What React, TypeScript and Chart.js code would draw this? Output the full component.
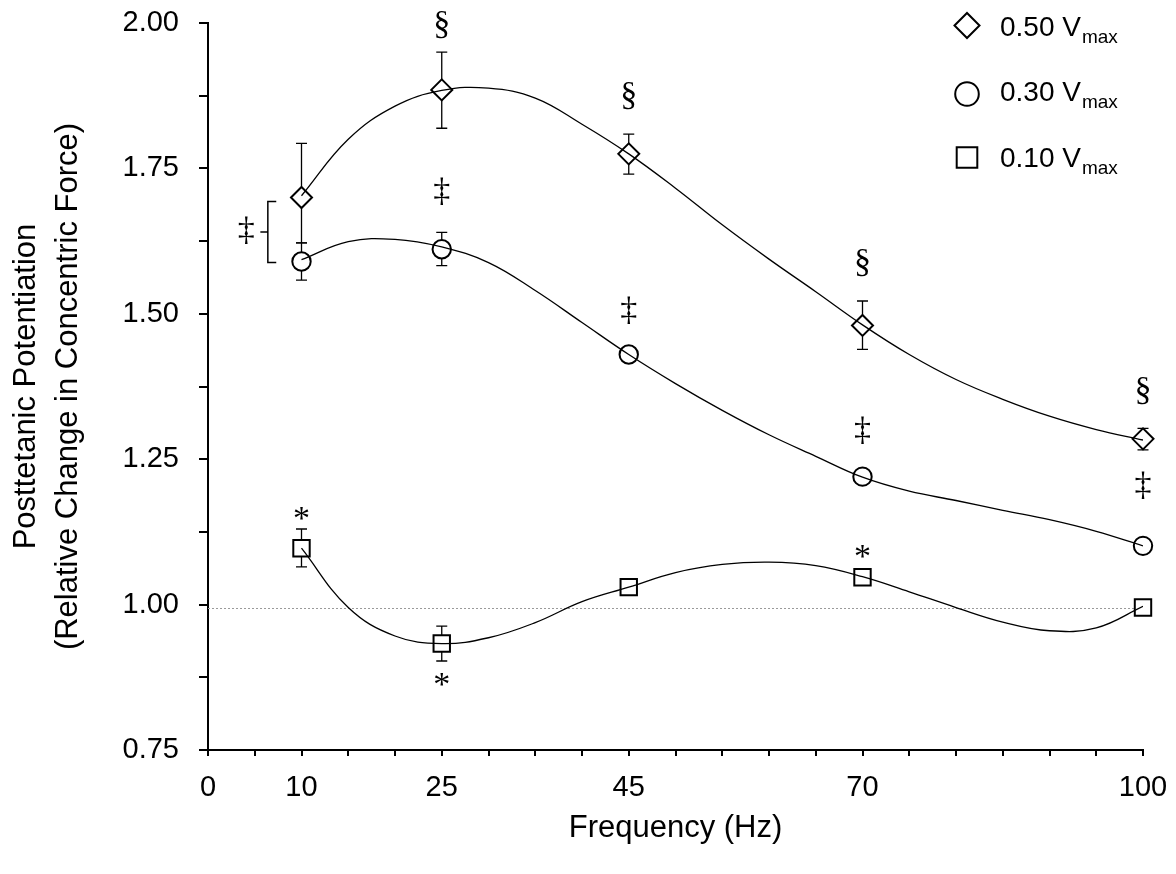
import React, { useEffect, useRef } from 'react';
import { Chart, registerables } from 'chart.js';

Chart.register(...registerables);

// ---- data ----
const frequencies = [10, 25, 45, 70, 100];
const xLabelled = [0, 10, 25, 45, 70, 100];

const mean50 = [1.700, 1.885, 1.775, 1.480, 1.285];
const upper50 = [1.793, 1.950, 1.809, 1.522, 1.303];
const lower50 = [1.622, 1.819, 1.740, 1.439, 1.266];

const mean30 = [1.590, 1.611, 1.430, 1.220, 1.101];
const upper30 = [1.622, 1.640, 1.438, 1.228, 1.108];
const lower30 = [1.558, 1.583, 1.422, 1.212, 1.094];

const mean10 = [1.097, 0.933, 1.030, 1.047, 0.995];
const upper10 = [1.130, 0.963, 1.038, 1.057, 1.003];
const lower10 = [1.065, 0.903, 1.022, 1.037, 0.987];

// fitted curves
const fitX = [10, 15, 20, 25, 30, 35, 40, 45, 50, 55, 60, 65, 70, 75, 80, 85, 90, 95, 100];
const fit50 = [1.703, 1.800, 1.857, 1.884, 1.888, 1.871, 1.826, 1.775, 1.716, 1.653, 1.594, 1.538, 1.481, 1.430, 1.387, 1.353, 1.324, 1.301, 1.283];
const fit30 = [1.593, 1.624, 1.628, 1.615, 1.588, 1.540, 1.485, 1.430, 1.380, 1.334, 1.292, 1.255, 1.219, 1.195, 1.179, 1.162, 1.146, 1.126, 1.101];
const fit10 = [1.097, 0.995, 0.946, 0.933, 0.943, 0.969, 1.005, 1.030, 1.055, 1.069, 1.073, 1.067, 1.048, 1.022, 0.995, 0.970, 0.955, 0.960, 0.997];

const referenceLevel = 0.995;

// significance symbols
const sectionX = [25, 45, 70, 100];
const sectionY = [1.997, 1.874, 1.587, 1.368];
const ddaggerX = [25, 45, 70, 100, 4.1];
const ddaggerY = [1.711, 1.507, 1.300, 1.206, 1.644];
const asteriskX = [10, 25, 70];
const asteriskY = [1.157, 0.871, 1.092];

// bracket joining 0.50 and 0.30 at 10 Hz
const bracketX = [5.6, 6.4, 7.3];
const bracketY = [1.693, 1.588];

const seriesNames = ['0.50 V', '0.30 V', '0.10 V'];
const seriesSub = 'max';

const SANS = '"Liberation Sans", Arial, sans-serif';
const SERIF = '"Liberation Serif", "Times New Roman", serif';

function drawMarker(ctx: CanvasRenderingContext2D, style: string, x: number, y: number, r: number) {
  ctx.beginPath();
  if (style === 'rectRot') {
    ctx.moveTo(x - r, y);
    ctx.lineTo(x, y - r);
    ctx.lineTo(x + r, y);
    ctx.lineTo(x, y + r);
    ctx.closePath();
  } else if (style === 'circle') {
    ctx.arc(x, y, r, 0, Math.PI * 2);
  } else {
    ctx.rect(x - r, y - r, 2 * r, 2 * r);
  }
  ctx.fillStyle = '#fff';
  ctx.fill();
  ctx.lineWidth = 2;
  ctx.strokeStyle = '#000';
  ctx.stroke();
}

const overlayPlugin = {
  id: 'overlay',
  beforeDatasetsDraw(chart: any) {
    const { ctx, chartArea } = chart;
    const x = chart.scales.x;
    const y = chart.scales.y;
    ctx.save();
    // dotted reference line
    ctx.strokeStyle = '#9a9a9a';
    ctx.lineWidth = 1;
    ctx.setLineDash([2, 2]);
    const ry = Math.round(y.getPixelForValue(referenceLevel)) + 0.5;
    ctx.beginPath();
    ctx.moveTo(chartArea.left, ry);
    ctx.lineTo(chartArea.right, ry);
    ctx.stroke();
    ctx.setLineDash([]);
    // error bars
    ctx.strokeStyle = '#000';
    ctx.lineWidth = 1.3;
    const groups = [
      [upper50, lower50],
      [upper30, lower30],
      [upper10, lower10],
    ];
    groups.forEach(([up, lo]) => {
      frequencies.forEach((f, i) => {
        const px = x.getPixelForValue(f);
        const t = y.getPixelForValue(up[i]);
        const b = y.getPixelForValue(lo[i]);
        ctx.beginPath();
        ctx.moveTo(px, t);
        ctx.lineTo(px, b);
        ctx.moveTo(px - 5.5, t);
        ctx.lineTo(px + 5.5, t);
        ctx.moveTo(px - 5.5, b);
        ctx.lineTo(px + 5.5, b);
        ctx.stroke();
      });
    });
    ctx.restore();
  },
  afterDraw(chart: any) {
    const { ctx, chartArea } = chart;
    const x = chart.scales.x;
    const y = chart.scales.y;
    ctx.save();
    // symbols
    ctx.fillStyle = '#000';
    ctx.font = `34px ${SERIF}`;
    ctx.textAlign = 'center';
    ctx.textBaseline = 'alphabetic';
    const put = (s: string, xs: number[], ys: number[]) => {
      const m = ctx.measureText(s);
      const off = (m.actualBoundingBoxAscent - m.actualBoundingBoxDescent) / 2;
      xs.forEach((xv, i) => {
        ctx.fillText(s, x.getPixelForValue(xv), y.getPixelForValue(ys[i]) + off);
      });
    };
    put('\u00A7', sectionX, sectionY);
    put('\u2021', ddaggerX, ddaggerY);
    put('*', asteriskX, asteriskY);

    // bracket
    ctx.strokeStyle = '#000';
    ctx.lineWidth = 1.5;
    const bx0 = x.getPixelForValue(bracketX[0]);
    const bx1 = x.getPixelForValue(bracketX[1]);
    const bx2 = x.getPixelForValue(bracketX[2]);
    const bt = y.getPixelForValue(bracketY[0]);
    const bb = y.getPixelForValue(bracketY[1]);
    const bm = (bt + bb) / 2;
    ctx.beginPath();
    ctx.moveTo(bx2, bt);
    ctx.lineTo(bx1, bt);
    ctx.lineTo(bx1, bb);
    ctx.lineTo(bx2, bb);
    ctx.moveTo(bx1, bm);
    ctx.lineTo(bx0, bm);
    ctx.stroke();

    // legend
    const styles = ['rectRot', 'circle', 'rect'];
    const radii = [12.5, 11.8, 10.3];
    const rowY = [25.5, 94, 157.5];
    const baseY = [36, 101, 167];
    styles.forEach((st, i) => {
      drawMarker(ctx, st, 967, rowY[i], radii[i]);
      ctx.fillStyle = '#000';
      ctx.textAlign = 'left';
      ctx.font = `28px ${SANS}`;
      ctx.fillText(seriesNames[i], 1000, baseY[i]);
      const w = ctx.measureText(seriesNames[i]).width;
      ctx.font = `19px ${SANS}`;
      ctx.fillText(seriesSub, 1000 + w + 1, baseY[i] + 7);
    });

    // axis titles
    ctx.fillStyle = '#000';
    ctx.font = `31px ${SANS}`;
    ctx.textAlign = 'center';
    ctx.textBaseline = 'alphabetic';
    const cy = (chartArea.top + chartArea.bottom) / 2;
    ctx.save();
    ctx.translate(35, cy);
    ctx.rotate(-Math.PI / 2);
    ctx.fillText('Posttetanic Potentiation', 0, 0);
    ctx.restore();
    ctx.save();
    ctx.translate(77, cy);
    ctx.rotate(-Math.PI / 2);
    ctx.fillText('(Relative Change in Concentric Force)', 0, 0);
    ctx.restore();
    ctx.fillText('Frequency (Hz)', (chartArea.left + chartArea.right) / 2, 837);
    ctx.restore();
  },
};

export default function App() {
  const ref = useRef<HTMLCanvasElement | null>(null);
  useEffect(() => {
    if (!ref.current) return;
    const pts = (xs: number[], ys: number[]) => xs.map((v, i) => ({ x: v, y: ys[i] }));
    const curve = (ys: number[]) => ({
      type: 'line' as const,
      data: pts(fitX, ys),
      borderColor: '#000',
      borderWidth: 1.3,
      pointRadius: 0,
      tension: 0.4,
      fill: false,
      order: 0,
    });
    const markers = (ys: number[], style: string, r: number) => ({
      type: 'line' as const,
      data: pts(frequencies, ys),
      showLine: false,
      pointStyle: style,
      pointRadius: r,
      pointBackgroundColor: '#fff',
      pointBorderColor: '#000',
      pointBorderWidth: 2,
      clip: false,
      order: 1,
    });
    const chart = new Chart(ref.current, {
      type: 'line',
      data: {
        datasets: [
          markers(mean50, 'rectRot', 10.5),
          markers(mean30, 'circle', 9.2),
          markers(mean10, 'rect', 11.6),
          curve(fit50),
          curve(fit30),
          curve(fit10),
        ] as any,
      },
      options: {
        responsive: false,
        animation: false,
        devicePixelRatio: 1,
        layout: { padding: { top: 23, right: 33, left: 0, bottom: 0 } },
        plugins: { legend: { display: false }, tooltip: { enabled: false } },
        scales: {
          x: {
            type: 'linear',
            min: 0,
            max: 100,
            afterFit: (s: any) => {
              s.height = 124;
              s.paddingLeft = 0;
              s.paddingRight = 0;
              s.paddingTop = 0;
              s.paddingBottom = 0;
            },
            border: { display: true, color: '#000', width: 2 },
            grid: { display: true, drawOnChartArea: false, drawTicks: true, tickLength: 6, color: '#000', lineWidth: 2 },
            ticks: {
              stepSize: 5,
              autoSkip: false,
              maxRotation: 0,
              padding: 15,
              color: '#000',
              font: { family: SANS, size: 29 },
              callback: (v: any) => (xLabelled.includes(Number(v)) ? String(v) : ''),
            },
          },
          y: {
            type: 'linear',
            min: 0.75,
            max: 2.0,
            afterFit: (s: any) => {
              s.width = 208;
              s.paddingLeft = 0;
              s.paddingRight = 0;
              s.paddingTop = 0;
              s.paddingBottom = 0;
            },
            border: { display: true, color: '#000', width: 2 },
            grid: { display: true, drawOnChartArea: false, drawTicks: true, tickLength: 9, color: '#000', lineWidth: 2 },
            ticks: {
              stepSize: 0.125,
              autoSkip: false,
              padding: 20,
              color: '#000',
              font: { family: SANS, size: 29 },
              callback: (v: any) => {
                const n = Number(v);
                return Math.abs(n * 4 - Math.round(n * 4)) < 1e-6 ? n.toFixed(2) : '';
              },
            },
          },
        },
      },
      plugins: [overlayPlugin],
    });
    return () => chart.destroy();
  }, []);
  return (
    <div style={{ position: 'absolute', left: 0, top: 0, width: 1176, height: 874 }}>
      <canvas ref={ref} width={1176} height={874} />
    </div>
  );
}
